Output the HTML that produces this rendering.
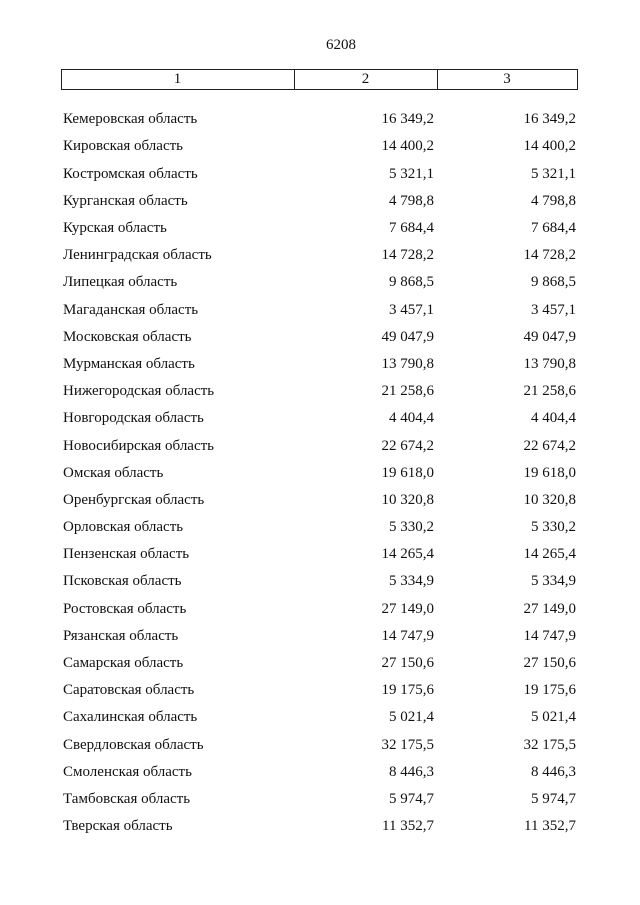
<!DOCTYPE html>
<html>
<head>
<meta charset="utf-8">
<style>
  html,body{margin:0;padding:0;background:#fff;}
  body{width:640px;height:905px;position:relative;overflow:hidden;
       font-family:"Liberation Serif","Noto Serif CJK SC",serif;font-size:15px;color:#111;}
  .abs{position:absolute;white-space:nowrap;}
  .box{position:absolute;left:61px;top:69px;width:515px;height:19px;border:1px solid #222;}
  .vl{position:absolute;top:69px;width:1px;height:21px;background:#222;}
  .hd{position:absolute;top:69px;height:21px;line-height:21px;text-align:center;}
  #rows{position:absolute;left:0;top:106.3px;width:640px;}
  .r{position:relative;height:27.2px;line-height:27.2px;}
  .n{position:absolute;left:63px;}
  .c2{position:absolute;right:206px;}
  .c3{position:absolute;right:64px;}
</style>
</head>
<body>
<div class="abs" style="left:0;width:682px;text-align:center;top:37px;line-height:17px;">6208</div>

<div class="box"></div>
<div class="vl" style="left:294px;"></div>
<div class="vl" style="left:437px;"></div>
<div class="hd" style="left:61px;width:233px;">1</div>
<div class="hd" style="left:294px;width:143px;">2</div>
<div class="hd" style="left:437px;width:140px;">3</div>

<div id="rows">
<div class="r"><span class="n">Кемеровская область</span><span class="c2">16 349,2</span><span class="c3">16 349,2</span></div>
<div class="r"><span class="n">Кировская область</span><span class="c2">14 400,2</span><span class="c3">14 400,2</span></div>
<div class="r"><span class="n">Костромская область</span><span class="c2">5 321,1</span><span class="c3">5 321,1</span></div>
<div class="r"><span class="n">Курганская область</span><span class="c2">4 798,8</span><span class="c3">4 798,8</span></div>
<div class="r"><span class="n">Курская область</span><span class="c2">7 684,4</span><span class="c3">7 684,4</span></div>
<div class="r"><span class="n">Ленинградская область</span><span class="c2">14 728,2</span><span class="c3">14 728,2</span></div>
<div class="r"><span class="n">Липецкая область</span><span class="c2">9 868,5</span><span class="c3">9 868,5</span></div>
<div class="r"><span class="n">Магаданская область</span><span class="c2">3 457,1</span><span class="c3">3 457,1</span></div>
<div class="r"><span class="n">Московская область</span><span class="c2">49 047,9</span><span class="c3">49 047,9</span></div>
<div class="r"><span class="n">Мурманская область</span><span class="c2">13 790,8</span><span class="c3">13 790,8</span></div>
<div class="r"><span class="n">Нижегородская область</span><span class="c2">21 258,6</span><span class="c3">21 258,6</span></div>
<div class="r"><span class="n">Новгородская область</span><span class="c2">4 404,4</span><span class="c3">4 404,4</span></div>
<div class="r"><span class="n">Новосибирская область</span><span class="c2">22 674,2</span><span class="c3">22 674,2</span></div>
<div class="r"><span class="n">Омская область</span><span class="c2">19 618,0</span><span class="c3">19 618,0</span></div>
<div class="r"><span class="n">Оренбургская область</span><span class="c2">10 320,8</span><span class="c3">10 320,8</span></div>
<div class="r"><span class="n">Орловская область</span><span class="c2">5 330,2</span><span class="c3">5 330,2</span></div>
<div class="r"><span class="n">Пензенская область</span><span class="c2">14 265,4</span><span class="c3">14 265,4</span></div>
<div class="r"><span class="n">Псковская область</span><span class="c2">5 334,9</span><span class="c3">5 334,9</span></div>
<div class="r"><span class="n">Ростовская область</span><span class="c2">27 149,0</span><span class="c3">27 149,0</span></div>
<div class="r"><span class="n">Рязанская область</span><span class="c2">14 747,9</span><span class="c3">14 747,9</span></div>
<div class="r"><span class="n">Самарская область</span><span class="c2">27 150,6</span><span class="c3">27 150,6</span></div>
<div class="r"><span class="n">Саратовская область</span><span class="c2">19 175,6</span><span class="c3">19 175,6</span></div>
<div class="r"><span class="n">Сахалинская область</span><span class="c2">5 021,4</span><span class="c3">5 021,4</span></div>
<div class="r"><span class="n">Свердловская область</span><span class="c2">32 175,5</span><span class="c3">32 175,5</span></div>
<div class="r"><span class="n">Смоленская область</span><span class="c2">8 446,3</span><span class="c3">8 446,3</span></div>
<div class="r"><span class="n">Тамбовская область</span><span class="c2">5 974,7</span><span class="c3">5 974,7</span></div>
<div class="r"><span class="n">Тверская область</span><span class="c2">11 352,7</span><span class="c3">11 352,7</span></div>
</div>
</body>
</html>
